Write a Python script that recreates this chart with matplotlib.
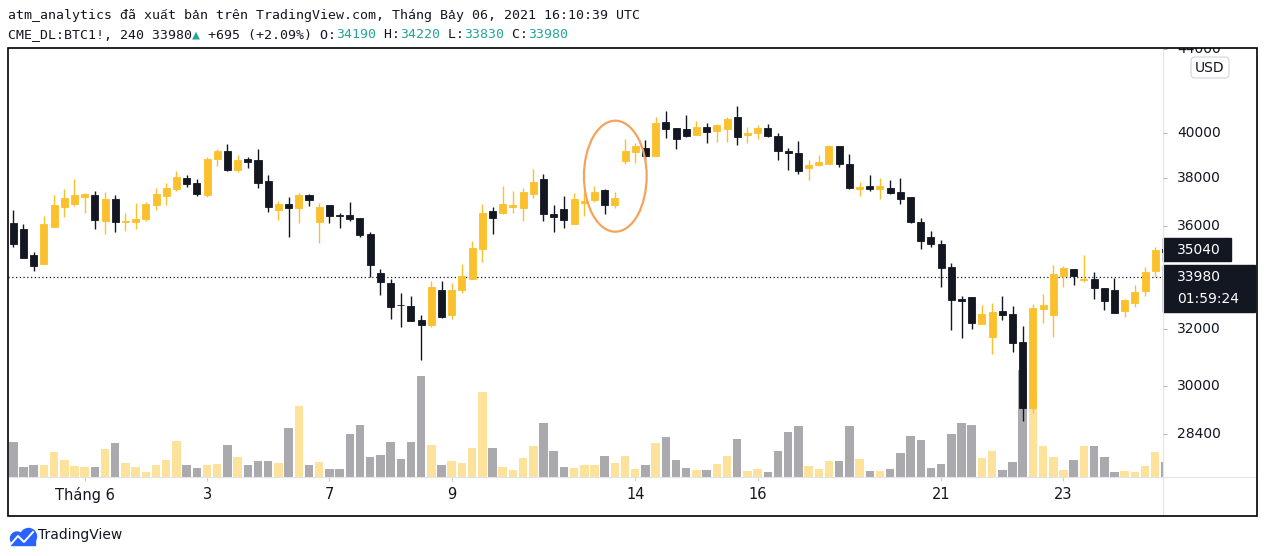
import matplotlib.pyplot as plt
import numpy as np
from matplotlib.lines import Line2D
from matplotlib.patches import Rectangle, Ellipse, FancyBboxPatch, Circle
from matplotlib.ticker import NullLocator
from matplotlib.transforms import IdentityTransform

# 4h candles of CME BTC1!, from late May to 24 June 2021
opens = [36110, 35870, 34820, 34480, 35960, 36790, 36910, 37210, 37280, 36200,
         37110, 36150, 36150, 36290, 36870, 37240, 37530, 38010, 37790, 37280,
         38840, 39190, 38350, 38840, 38790, 37880, 36650, 36900, 36730, 37280,
         36150, 36860, 36440, 36440, 36320, 35670, 34130, 33730, 32910, 32860,
         32350, 32170, 33470, 32540, 33480, 33900, 35070, 36610, 36520, 36790,
         36750, 37320, 37960, 36480, 36690, 36090, 36930, 37080, 37490, 36870,
         38760, 39150, 39330, 38980, 40500, 40230, 40180, 39920, 40270, 40100,
         40200, 40730, 39920, 40010, 40230, 39870, 39170, 39100, 38460, 38570,
         38630, 39410, 38620, 37540, 37680, 37520, 37580, 37420, 37210, 36150,
         35540, 35260, 34350, 33130, 33190, 32210, 31710, 32690, 32580, 31550,
         29250, 32750, 32530, 34000, 34270, 33830, 33890, 33540, 33470, 32690,
         32990, 33440, 34210, 35060]
highs = [36650, 36070, 34940, 36390, 37290, 37530, 37960, 37380, 37450, 37410,
         37280, 36520, 36940, 36980, 37580, 37790, 38310, 38140, 37960, 38920,
         39280, 39500, 39010, 38920, 39280, 38140, 37030, 37200, 37370, 37320,
         36940, 36860, 36520, 36980, 36320, 35750, 34290, 33890, 33360, 33250,
         32530, 33810, 33810, 33730, 34470, 35380, 36900, 36780, 37660, 37450,
         37580, 38400, 38180, 36860, 37240, 37370, 37410, 37660, 37530, 37410,
         39730, 39550, 39680, 40730, 41010, 40230, 40830, 40550, 40460, 40410,
         40730, 41250, 40270, 40370, 40410, 40000, 39320, 39630, 38790, 39010,
         39460, 39410, 39060, 37850, 38140, 38020, 37930, 38020, 37210, 36320,
         35790, 35420, 34510, 33250, 33190, 32910, 32990, 33250, 32870, 32130,
         32940, 33320, 34430, 34390, 34270, 34820, 34160, 33540, 33930, 33130,
         33660, 34350, 35140, 35120]
lows = [35150, 34700, 34210, 34480, 35960, 36370, 36830, 36540, 35880, 35680,
        35760, 35800, 35880, 36200, 36660, 36870, 37450, 37620, 37240, 37200,
        38530, 38310, 38270, 38440, 37580, 36570, 36240, 35540, 36110, 36830,
        35310, 36120, 35920, 36200, 35560, 33980, 33290, 32390, 32100, 32320,
        30920, 32070, 32430, 32390, 33360, 33900, 34560, 35680, 36480, 36540,
        36200, 37170, 36200, 35760, 35920, 36050, 36410, 37000, 36500, 36750,
        38620, 38660, 38800, 38980, 39790, 39290, 39830, 39920, 39570, 39610,
        39610, 39470, 39570, 39740, 39830, 38800, 38350, 38190, 37930, 38540,
        38630, 38500, 37550, 37250, 37460, 37110, 37340, 36910, 36130, 35060,
        35140, 33590, 31990, 31700, 32030, 32210, 31100, 32360, 31200, 28840,
        29110, 32240, 31730, 33580, 33660, 33770, 33130, 32710, 32610, 32460,
        32840, 33240, 33970, 34900]
closes = [35270, 34720, 34400, 36070, 36860, 37150, 37280, 37320, 36250, 37110,
          36150, 36200, 36280, 36900, 37320, 37580, 38050, 37750, 37320, 38840,
          39190, 38350, 38790, 38700, 37790, 36780, 36900, 36730, 37280, 37080,
          36780, 36410, 36410, 36290, 35640, 34440, 33780, 32840, 32880, 32320,
          32170, 33580, 32470, 33470, 34010, 35100, 36520, 36330, 36900, 36860,
          37410, 37840, 36500, 36370, 36250, 37110, 37030, 37410, 36870, 37150,
          39190, 39410, 38980, 40460, 40200, 39740, 39880, 40270, 40060, 40370,
          40640, 39830, 40010, 40230, 39880, 39210, 39080, 38320, 38570, 38690,
          39410, 38630, 37590, 37600, 37550, 37650, 37380, 37130, 36150, 35390,
          35260, 34330, 33100, 33060, 32250, 32580, 32620, 32540, 31520, 29280,
          32790, 32900, 34080, 34310, 34000, 33880, 33550, 33060, 32610, 33090,
          33390, 34160, 35040, 34960]
volumes = [350, 100, 120, 120, 250, 170, 110, 100, 100, 280,
           340, 140, 100, 50, 120, 170, 360, 120, 90, 120,
           130, 320, 200, 120, 160, 160, 140, 490, 710, 120,
           150, 80, 80, 430, 520, 200, 220, 350, 180, 350,
           1010, 320, 120, 160, 140, 290, 850, 290, 100, 70,
           190, 310, 540, 260, 100, 90, 120, 120, 210, 140,
           210, 80, 120, 340, 400, 170, 90, 70, 70, 130,
           210, 380, 60, 80, 50, 260, 450, 510, 110, 80,
           160, 160, 510, 180, 60, 60, 80, 240, 410, 370,
           90, 130, 430, 540, 520, 190, 260, 70, 150, 1070,
           820, 310, 200, 70, 170, 310, 310, 200, 50, 60,
           50, 110, 250, 150]

tick_idx = [7, 19, 31, 43, 61, 73, 91, 103]
tick_labels = ['Tháng 6', '3', '7', '9', '14', '16', '21', '23']
price_ticks = [44000, 40000, 38000, 36000, 32000, 30000, 28400]
last_close_visible = 35040
last_price = 33980
countdown = '01:59:24'

header1 = 'atm_analytics đã xuất bản trên TradingView.com, Tháng Bảy 06, 2021 16:10:39 UTC'

DARK = '#131722'
YEL = '#fbc02d'
VGRAY = '#a9a9ae'
VYEL = '#fde29c'
TEAL = '#26a69a'
SEP = '#e0e3eb'

header2 = [('CME_DL:BTC1!, 240 33980', DARK), ('▲', TEAL), (' +695 (+2.09%) O:', DARK),
           ('34190', TEAL), (' H:', DARK), ('34220', TEAL), (' L:', DARK),
           ('33830', TEAL), (' C:', DARK), ('33980', TEAL)]

W, H = 1265, 556
fig = plt.figure(figsize=(W / 100, H / 100), dpi=100)
fig.patch.set_facecolor('white')


def fx(x):
    return x / W


def fy(y):
    return 1 - y / H


PX = IdentityTransform()

# chart pane in pixels
L, R, T, B = 8, 1163, 48, 477
rect = [fx(L), fy(B), (R - L) / W, (B - T) / H]
vax = fig.add_axes(rect)
ax = fig.add_axes(rect, facecolor='none')

o = np.array(opens)
hi = np.array(highs)
lo = np.array(lows)
c = np.array(closes)
idx = np.arange(len(o))
up = c >= o
ccol = np.where(up, YEL, DARK)
vcol = np.where(up, VYEL, VGRAY)

xlim = (-0.52, 112.76)

vax.bar(idx, volumes, width=0.83, color=vcol, linewidth=0)
vax.set_xlim(xlim)
vax.set_ylim(0, 4290)
vax.axis('off')

ax.set_yscale('log')
ax.vlines(idx, lo, hi, colors=ccol, lw=1.0, zorder=2)
bot = np.minimum(o, c)
top = np.maximum(o, c)
ax.bar(idx, top - bot, bottom=bot, width=0.69, color=ccol, edgecolor=ccol,
       linewidth=0.6, zorder=3)
ax.axhline(last_price, color=DARK, lw=0.9, ls=(0, (1, 2)), zorder=1)
ax.set_xlim(xlim)
ylim = (27058, 44056)
ax.set_ylim(ylim)
ax.yaxis.set_major_locator(NullLocator())
ax.yaxis.set_minor_locator(NullLocator())
ax.tick_params(axis='y', which='both', left=False, labelleft=False)
ax.set_xticks(tick_idx)
ax.set_xticklabels(tick_labels)
ax.tick_params(axis='x', length=3, width=0.8, color='#c9cbd1', pad=4.5,
               labelsize=10.5, labelcolor=DARK)
for s in ax.spines.values():
    s.set_visible(False)

# price scale
pax = fig.add_axes([fx(R), fy(B), (1257 - R) / W, (B - T) / H], facecolor='none')
pax.set_yscale('log')
pax.set_ylim(ylim)
pax.set_xlim(0, 1)
pax.axis('off')
pw = 1257 - R
ph = B - T
pax.hlines(price_ticks, 0, 4 / pw, color='#b2b5be', lw=0.8)
for p in price_ticks:
    pax.text(14 / pw, p, str(p), fontsize=10, color=DARK, va='center', ha='left',
             clip_on=True)


def yfrac(p):
    return pax.transAxes.inverted().transform(pax.transData.transform((0.5, p)))[1]


yf = yfrac(last_close_visible)
pax.add_patch(Rectangle((0.005, yf - 11.5 / ph), 68 / pw, 23 / ph, transform=pax.transAxes,
                        color=DARK, clip_on=False))
pax.text(14 / pw, yf, str(last_close_visible), transform=pax.transAxes, fontsize=10,
         color='white', va='center', ha='left')
yf = yfrac(last_price)
pax.add_patch(Rectangle((0.005, yf - 35 / ph), 92 / pw, 47 / ph, transform=pax.transAxes,
                        color=DARK, clip_on=False))
pax.text(14 / pw, yf, str(last_price), transform=pax.transAxes, fontsize=10,
         color='white', va='center', ha='left')
pax.text(14 / pw, yf - 22 / ph, countdown, transform=pax.transAxes, fontsize=10,
         color='white', va='center', ha='left')

# USD badge
fig.add_artist(FancyBboxPatch((1191, H - 78), 38, 21, boxstyle='round,pad=0,rounding_size=4',
                              transform=PX, fc='white', ec='#d1d4dc', lw=0.8))
fig.text(fx(1210), fy(67.5), 'USD', fontsize=10, color=DARK, ha='center', va='center')

# pane separators and outer frame
fig.add_artist(Line2D([L, 1257], [H - B, H - B], transform=PX, color=SEP, lw=0.8, zorder=0.5))
fig.add_artist(Line2D([R, R], [H - T, H - 516], transform=PX, color=SEP, lw=0.8, zorder=0.5))
fig.add_artist(Rectangle((L, H - 516), 1257 - L, 516 - T, transform=PX, fill=False,
                         ec='black', lw=1.2))

# highlight ellipse
fig.add_artist(Ellipse((615.3, H - 176.2), 62.7, 111, transform=PX, fill=False,
                       ec='#f5a35c', lw=1.6))

# header lines
mono = dict(family=['DejaVu Sans Mono', 'Liberation Mono', 'Noto Sans', 'DejaVu Sans'],
            fontsize=9.5)
fig.text(fx(8), fy(16), header1, color=DARK, va='center', ha='left', **mono)
probe = fig.text(0, 0, 'M' * 40, **mono)
fig.canvas.draw()
cw = probe.get_window_extent().width / 40
probe.remove()
x = 8
for s, col in header2:
    fig.text(fx(x), fy(35), s, color=col, va='center', ha='left', **mono)
    x += cw * len(s)

# TradingView logo
blue = '#2962ff'
fig.add_artist(Circle((17, H - 538.5), 6.5, transform=PX, color=blue))
fig.add_artist(Circle((28.5, H - 536.5), 8, transform=PX, color=blue))
fig.add_artist(Rectangle((11, H - 545), 24, 7, transform=PX, color=blue))
fig.add_artist(Line2D([11, 18, 24, 33], [H - 544, H - 536, H - 542, H - 532],
                      transform=PX, color='white', lw=1.4))
fig.text(fx(38), fy(535), 'TradingView', fontsize=10, color=DARK, va='center', ha='left')

fig.savefig('out.png', dpi=100, facecolor='white')
